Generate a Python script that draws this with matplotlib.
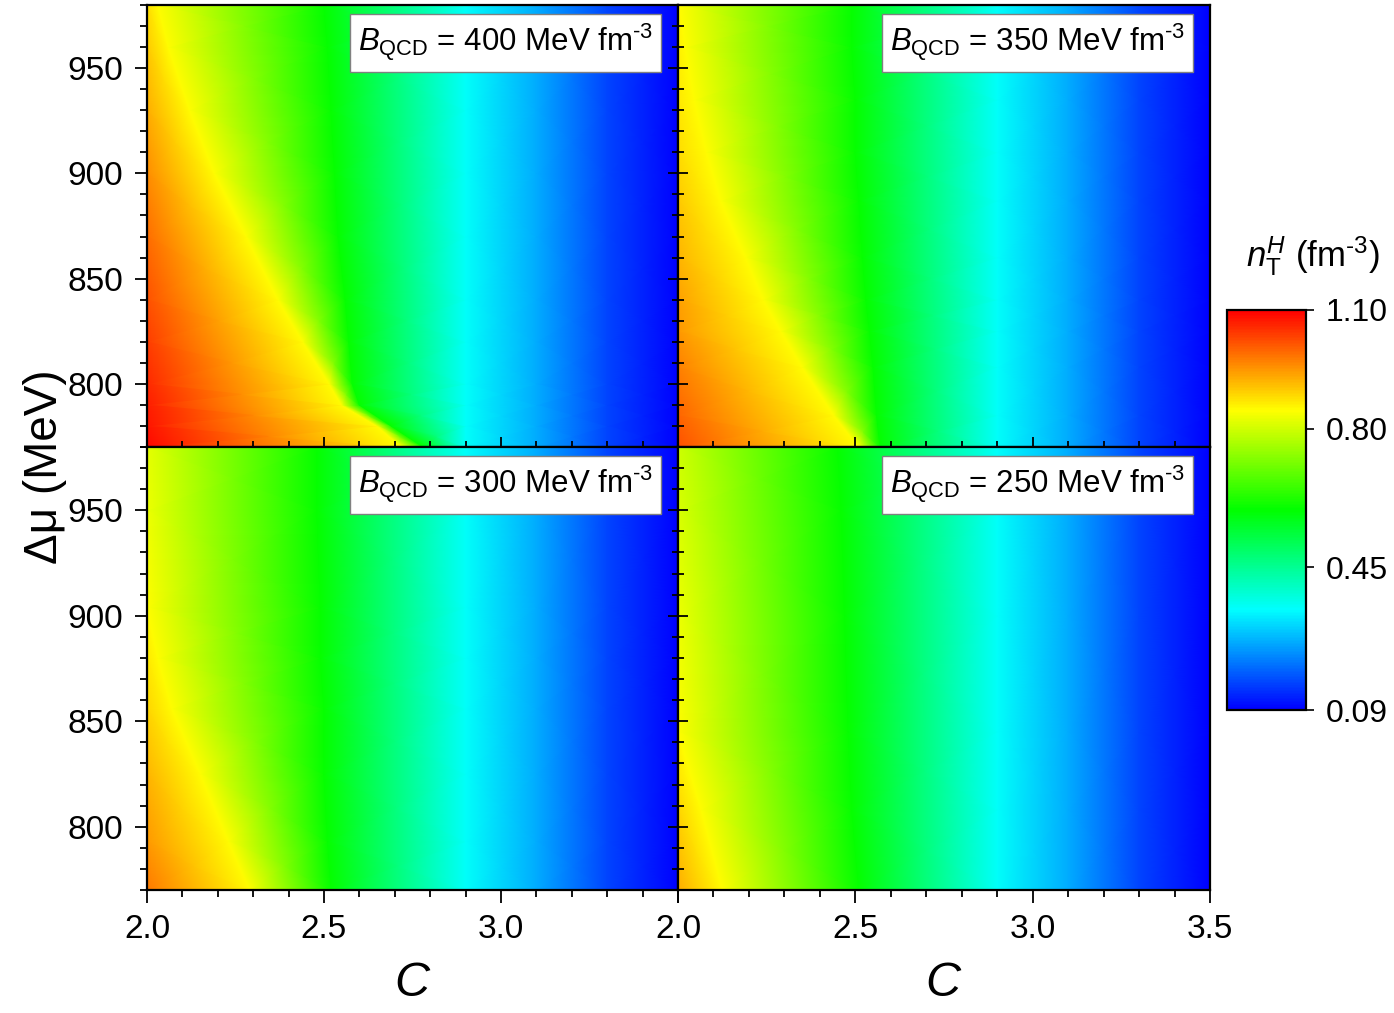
import numpy as np
import matplotlib.pyplot as plt
from matplotlib.colors import LinearSegmentedColormap
from matplotlib.ticker import MultipleLocator, FuncFormatter

plt.rcParams['font.family'] = ['Liberation Sans', 'DejaVu Sans']
plt.rcParams['mathtext.fontset'] = 'custom'
plt.rcParams['mathtext.rm'] = 'Liberation Sans'
plt.rcParams['mathtext.it'] = 'Liberation Sans:italic'
plt.rcParams['mathtext.bf'] = 'Liberation Sans:bold'

# n_T^H (fm^-3), one set of rows (Delta mu, MeV) per panel.
# edge_n: value at C = 2.0, ridge_c / ridge_n: the bright yellow crest,
# green_c: position of the green band (n = 0.60), tail: blue side, same for all
bag_labels = [400, 350, 300, 250]

dmu_400 = [770, 780, 790, 800, 820, 840, 870, 900, 930, 960, 980]
edge_n_400 = [1.09, 1.08, 1.07, 1.06, 1.04, 1.02, 0.99, 0.96, 0.93, 0.90, 0.88]
ridge_c_400 = [2.72, 2.65, 2.55, 2.515, 2.44, 2.37, 2.28, 2.19, 2.12, 2.06, 2.03]
ridge_n_400 = [0.85, 0.85, 0.85, 0.85, 0.85, 0.85, 0.85, 0.85, 0.85, 0.85, 0.85]
green_c_400 = [2.78, 2.69, 2.60, 2.58, 2.57, 2.56, 2.54, 2.53, 2.52, 2.51, 2.50]

dmu_350 = [770, 785, 808, 825, 840, 860, 887, 910, 935, 960, 980]
edge_n_350 = [1.02, 1.00, 0.97, 0.95, 0.94, 0.92, 0.90, 0.88, 0.87, 0.86, 0.855]
ridge_c_350 = [2.51, 2.44, 2.35, 2.29, 2.24, 2.19, 2.12, 2.08, 2.045, 2.02, 2.005]
ridge_n_350 = [0.85, 0.85, 0.85, 0.85, 0.85, 0.85, 0.85, 0.85, 0.85, 0.85, 0.85]
green_c_350 = [2.57, 2.56, 2.55, 2.54, 2.53, 2.52, 2.51, 2.50, 2.50, 2.49, 2.49]

dmu_300 = [770, 793, 825, 856, 880, 904, 950, 980]
edge_n_300 = [0.98, 0.95, 0.92, 0.89, 0.87, 0.85, 0.83, 0.82]
ridge_c_300 = [2.29, 2.23, 2.15, 2.07, 2.03, 2.0, 2.0, 2.0]
ridge_n_300 = [0.85, 0.85, 0.85, 0.85, 0.85, 0.85, 0.83, 0.82]
green_c_300 = [2.52, 2.51, 2.50, 2.50, 2.49, 2.49, 2.48, 2.48]

dmu_250 = [770, 808, 845, 900, 950, 980]
edge_n_250 = [0.93, 0.89, 0.85, 0.83, 0.81, 0.80]
ridge_c_250 = [2.125, 2.065, 2.0, 2.0, 2.0, 2.0]
ridge_n_250 = [0.85, 0.85, 0.85, 0.83, 0.81, 0.80]
green_c_250 = [2.51, 2.49, 2.48, 2.47, 2.46, 2.45]

green_n = 0.60
tail_c = [2.9, 3.1, 3.3, 3.5]
tail_n = [0.35, 0.26, 0.16, 0.08]

cbar_ticks = [0.09, 0.45, 0.80, 1.10]

panels = [
    (dmu_400, edge_n_400, ridge_c_400, ridge_n_400, green_c_400),
    (dmu_350, edge_n_350, ridge_c_350, ridge_n_350, green_c_350),
    (dmu_300, edge_n_300, ridge_c_300, ridge_n_300, green_c_300),
    (dmu_250, edge_n_250, ridge_c_250, ridge_n_250, green_c_250),
]

cmap = LinearSegmentedColormap.from_list(
    'rainbow5', [(0.0, '#0000ff'), (0.25, '#00ffff'), (0.5, '#00ff00'),
                 (0.75, '#ffff00'), (1.0, '#ff0000')])

fig = plt.figure(figsize=(13.94, 10.13), dpi=100)

W, H = 1394, 1013
xl, xm, xr = 147 / W, 678 / W, 1210 / W
yt, ym, yb = 1 - 5 / H, 1 - 447 / H, 1 - 890 / H
rects = [
    [xl, ym, xm - xl, yt - ym], [xm, ym, xr - xm, yt - ym],
    [xl, yb, xm - xl, ym - yb], [xm, yb, xr - xm, ym - yb],
]

mesh = None
for i, (rect, (dmu, edge_n, ridge_c, ridge_n, green_c)) in enumerate(zip(rects, panels)):
    ax = fig.add_axes(rect)
    nrow = len(dmu)
    X = np.column_stack([np.full(nrow, 2.0), ridge_c, green_c] +
                        [np.full(nrow, c) for c in tail_c])
    Z = np.column_stack([edge_n, ridge_n, np.full(nrow, green_n)] +
                        [np.full(nrow, v) for v in tail_n])
    Y = np.repeat(np.array(dmu, dtype=float)[:, None], X.shape[1], axis=1)
    mesh = ax.pcolormesh(X, Y, Z, cmap=cmap, vmin=0.09, vmax=1.10,
                         shading='gouraud', rasterized=True)
    ax.set_xlim(2.0, 3.5)
    ax.set_ylim(770, 980)

    ax.xaxis.set_major_locator(MultipleLocator(0.5))
    ax.xaxis.set_minor_locator(MultipleLocator(0.1))
    ax.yaxis.set_major_locator(MultipleLocator(50))
    ax.yaxis.set_minor_locator(MultipleLocator(10))
    for sp in ax.spines.values():
        sp.set_linewidth(1.6)

    top = i < 2
    left = i % 2 == 0
    ax.tick_params(axis='x', which='both', top=False, bottom=True,
                   direction='inout' if top else 'out',
                   labelbottom=not top, labelsize=24, pad=8, width=1.3)
    ax.tick_params(axis='y', which='both', right=False, left=True,
                   direction='out' if left else 'inout',
                   labelleft=left, labelsize=24, pad=8, width=1.3)
    if top:
        ax.tick_params(axis='x', which='major', length=14)
        ax.tick_params(axis='x', which='minor', length=8)
    else:
        ax.tick_params(axis='x', which='major', length=9)
        ax.tick_params(axis='x', which='minor', length=5)
    if left:
        ax.tick_params(axis='y', which='major', length=9)
        ax.tick_params(axis='y', which='minor', length=5)
    else:
        ax.tick_params(axis='y', which='major', length=14)
        ax.tick_params(axis='y', which='minor', length=8)

    if not top:
        if left:
            ax.xaxis.set_major_formatter(
                FuncFormatter(lambda v, p: '' if v > 3.4 else f'{v:.1f}'))
        else:
            ax.xaxis.set_major_formatter(FuncFormatter(lambda v, p: f'{v:.1f}'))
        ax.set_xlabel('$C$', fontsize=35, labelpad=12)

    ax.text(0.953, 0.962, r'$B_{\rm QCD}$ = %d MeV fm$^{\mathregular{‐3}}$' % bag_labels[i],
            transform=ax.transAxes, ha='right', va='top', fontsize=22.5,
            bbox=dict(boxstyle='square,pad=0.25', fc='white', ec='#808080', lw=1.0))

fig.text(45 / W, 1 - 467 / H, 'Δμ (MeV)', rotation=90,
         ha='center', va='center', fontsize=33)

cax = fig.add_axes([1227 / W, 1 - 710 / H, 79 / W, 400 / H])
cb = fig.colorbar(mesh, cax=cax, ticks=cbar_ticks)
cb.ax.yaxis.set_major_formatter(FuncFormatter(lambda v, p: f'{v:.2f}'))
cb.ax.tick_params(labelsize=23, length=6, width=1.2, pad=8, direction='out')
cb.outline.set_linewidth(1.6)
fig.text(1313 / W, 1 - 256 / H, r'$n_{\rm T}^{H}$ (fm$^{\mathregular{‐3}}$)',
         ha='center', va='center', fontsize=25)

fig.savefig('out.png', dpi=100)
